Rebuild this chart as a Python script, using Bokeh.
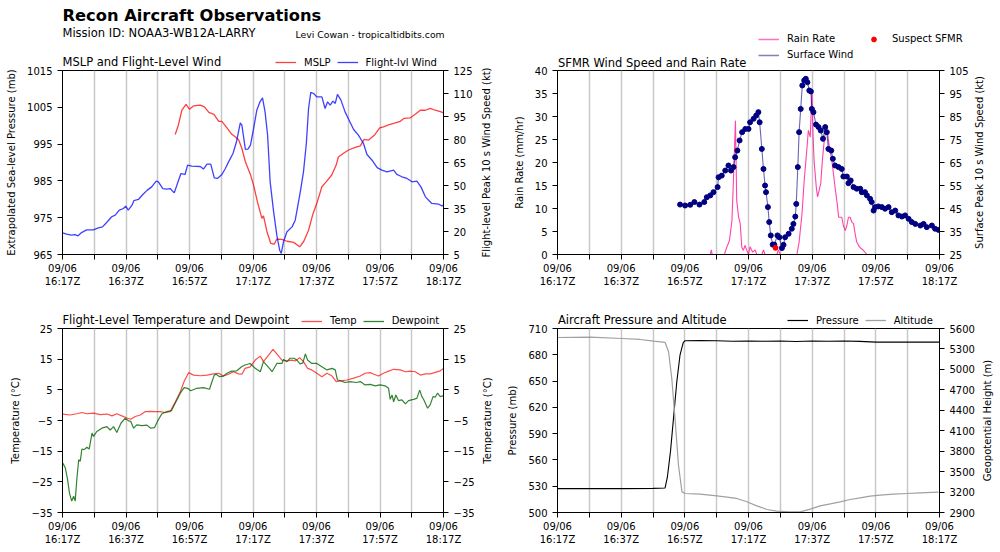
import math
from bokeh.plotting import figure
from bokeh.models import (Range1d, LinearAxis, FixedTicker, Label, Legend, LegendItem, Grid,
                          GridBox)
from bokeh.layouts import column, row
from bokeh.embed import file_html
from bokeh.resources import INLINE

FONT = "DejaVu Sans"

# ---------------- time axis (minutes after 09/06 16:17Z) ----------------
tick_minutes = [0, 20, 40, 60, 80, 100, 120]
minor_minutes = [10, 30, 50, 70, 90, 110]
tick_labels = ["09/06\n16:17Z", "09/06\n16:37Z", "09/06\n16:57Z", "09/06\n17:17Z",
               "09/06\n17:37Z", "09/06\n17:57Z", "09/06\n18:17Z"]

# ---------------- panel 1: MSLP and flight-level wind ----------------
mslp_t = [35.5, 36.5, 37.6, 38.9, 40.0, 41.3, 43.4, 44.7, 46.1, 47.7,
          49.2, 50.2, 51.8, 53.4, 54.4, 55.5, 56.5, 57.6, 59.2, 60.2,
          61.4, 62.8, 63.3, 64.4, 65.6, 66.7, 67.5, 69.1, 70.7, 72.8,
          74.7, 76.0, 77.5, 78.9, 80.1, 81.7, 83.1, 84.8, 86.2, 86.9,
          88.5, 90.1, 92.2, 93.8, 95.0, 96.4, 98.2, 99.9, 101.1, 102.7,
          104.3, 106.4, 107.6, 109.5, 111.1, 112.7, 114.3, 115.8, 117.4, 119.0,
          120.0]
mslp_mb = [997.6, 1000.2, 1004.2, 1005.8, 1004.5, 1005.4, 1005.6, 1005.1, 1003.6, 1003.1,
           1001.2, 1001.2, 999.4, 997.6, 997.0, 996.1, 993.8, 990.2, 986.7, 983.8,
           979.3, 974.8, 975.5, 971.2, 968.0, 967.8, 969.2, 969.1, 968.6, 968.3,
           967.1, 968.6, 971.6, 976.1, 978.9, 983.4, 984.8, 986.6, 989.3, 991.5,
           992.5, 993.4, 994.1, 994.5, 996.3, 996.1, 997.4, 999.4, 999.7, 1000.2,
           1000.6, 1001.2, 1002.0, 1002.1, 1003.1, 1004.2, 1004.2, 1004.7, 1004.2, 1003.8,
           1003.5]

flwind_t = [0.0, 1.3, 2.8, 3.9, 4.9, 6.0, 7.6, 9.7, 11.3, 12.6,
            13.9, 15.5, 16.6, 17.9, 19.2, 19.9, 20.7, 21.9, 22.5, 23.9,
            25.3, 26.7, 28.1, 29.5, 30.2, 31.6, 32.8, 33.9, 35.2, 36.2,
            37.3, 38.6, 39.4, 40.7, 43.4, 44.4, 45.5, 46.7, 47.8, 48.8,
            50.2, 51.3, 52.3, 53.7, 54.8, 56.0, 56.5, 57.6, 58.4, 59.2,
            60.2, 61.2, 62.2, 63.0, 63.8, 64.6, 65.4, 66.5, 67.5, 68.4,
            68.9, 69.6, 70.7, 72.3, 73.3, 74.9, 75.9, 76.8, 77.5, 78.2,
            79.1, 80.1, 81.7, 82.7, 83.5, 84.3, 85.2, 85.9, 86.6, 87.7,
            89.0, 90.0, 91.7, 93.2, 94.8, 95.9, 97.5, 99.1, 100.6, 102.2,
            104.3, 105.3, 106.9, 108.5, 110.1, 111.6, 112.9, 114.3, 116.3, 118.5,
            119.5, 120.0]
flwind_kt = [19.1, 18.3, 17.6, 18.0, 17.2, 19.3, 21.1, 21.1, 22.4, 23.0,
             25.9, 29.6, 30.7, 33.9, 35.0, 36.5, 33.9, 37.2, 40.2, 40.9,
             44.1, 47.0, 49.1, 52.8, 52.4, 48.0, 47.6, 48.0, 45.2, 51.3,
             57.8, 57.2, 63.3, 62.6, 62.4, 60.7, 63.9, 63.9, 55.0, 54.6,
             57.2, 61.1, 65.4, 70.9, 78.5, 90.9, 89.4, 73.5, 73.7, 76.3,
             87.2, 99.1, 104.6, 107.2, 98.0, 82.8, 52.4, 32.8, 17.6, 7.8,
             5.7, 13.3, 19.8, 23.0, 27.4, 45.9, 58.9, 77.4, 100.2, 110.7,
             110.0, 107.8, 107.8, 100.2, 104.6, 102.4, 105.0, 103.5, 109.4, 105.7,
             98.0, 93.7, 86.5, 82.8, 77.4, 70.2, 66.5, 61.7, 60.0, 58.9,
             60.0, 57.2, 55.7, 54.6, 52.4, 52.8, 49.1, 42.6, 38.3, 37.8,
             36.7, 37.2]

# ---------------- panel 2: SFMR wind and rain rate ----------------
sfmr_t = [38.5, 40.1, 41.7, 43.0, 44.6, 46.1, 46.9, 48.0, 49.0, 50.3,
          50.6, 51.6, 52.7, 53.7, 54.5, 55.3, 55.8, 56.5, 57.2, 58.0,
          59.0, 60.0, 60.5, 61.6, 62.4, 63.1, 63.5, 64.2, 64.7, 65.2,
          65.5, 66.1, 66.5, 67.0, 67.6, 68.1, 69.1, 69.7, 70.5, 71.0,
          71.5, 72.6, 73.6, 74.1, 74.7, 75.0, 75.5, 75.9, 76.4, 76.9,
          77.5, 78.0, 78.5, 79.1, 79.6, 79.9, 80.4, 81.2, 82.0, 82.7,
          83.4, 84.1, 84.6, 85.1, 86.0, 86.5, 87.2, 88.3, 89.3, 89.8,
          90.9, 91.4, 92.1, 93.0, 94.0, 95.1, 95.6, 96.6, 97.2, 98.2,
          98.7, 99.3, 99.8, 100.8, 101.9, 102.9, 104.0, 105.0, 106.1, 107.1,
          108.2, 109.2, 110.3, 111.3, 112.4, 114.0, 115.0, 116.0, 117.6, 118.6,
          119.7]
sfmr_kt = [46.7, 46.3, 46.6, 47.8, 46.7, 47.8, 49.9, 50.7, 52.1, 54.3,
           58.6, 59.3, 61.5, 63.7, 61.5, 63.0, 67.3, 70.2, 74.6, 78.2,
           79.6, 79.6, 82.5, 84.0, 85.4, 86.9, 82.5, 70.9, 62.2, 55.0,
           52.1, 45.6, 39.1, 33.3, 29.3, 29.3, 33.3, 32.5, 27.8, 29.2,
           32.5, 34.0, 36.2, 38.3, 41.5, 47.0, 63.0, 78.2, 88.3, 98.5,
           100.7, 101.4, 99.9, 96.3, 95.9, 88.3, 86.9, 81.5, 80.4, 78.9,
           75.3, 80.4, 78.2, 70.9, 70.2, 66.6, 63.7, 63.0, 62.2, 58.9,
           58.9, 56.0, 57.2, 54.3, 53.6, 53.6, 52.1, 52.1, 50.7, 49.2,
           47.8, 44.1, 45.6, 45.9, 45.6, 44.9, 45.6, 43.4, 44.1, 42.0,
           41.5, 42.0, 40.5, 39.1, 38.3, 37.6, 38.3, 36.9, 37.6, 36.2,
           35.7]
suspect_t = [68.5]
suspect_kt = [27.9]

rain_t = [38.5, 48.0, 48.3, 48.6, 52.4, 53.2, 54.0, 54.8, 55.3, 55.9,
          56.3, 56.9, 57.4, 57.9, 58.4, 58.9, 59.4, 60.0, 60.5, 61.3,
          62.1, 62.6, 64.2, 64.7, 65.2, 68.9, 69.4, 70.0, 75.2, 75.9,
          76.8, 77.5, 78.3, 78.8, 79.4, 79.9, 80.3, 80.6, 81.3, 81.7,
          82.3, 82.7, 83.2, 83.8, 84.3, 84.8, 85.4, 86.2, 86.7, 87.2,
          88.0, 88.3, 89.3, 89.8, 90.4, 90.9, 91.4, 91.9, 92.5, 93.0,
          93.5, 94.0, 94.9, 95.6, 96.1, 97.2, 119.7]
rain_mm = [0.0, 0.0, 1.0, 0.0, 0.0, 1.6, 3.0, 7.4, 16.8, 29.1,
           11.7, 8.1, 6.7, 1.6, 0.9, 2.0, 1.0, 0.0, 1.7, 0.5,
           1.0, 0.0, 0.0, 1.0, 0.0, 0.0, 1.0, 0.0, 0.0, 2.7,
           8.8, 16.1, 22.6, 27.0, 25.5, 35.7, 25.5, 20.4, 14.6, 12.5,
           14.3, 15.4, 20.4, 24.8, 27.3, 26.6, 23.3, 20.4, 17.5, 14.6,
           10.3, 8.1, 8.1, 6.3, 5.2, 6.3, 8.1, 8.1, 7.0, 6.7,
           4.5, 2.7, 1.6, 1.2, 0.9, 0.0, 0.0]

# ---------------- panel 3: flight-level temperature and dewpoint ----------------
temp_t = [0.1, 2.4, 4.5, 6.1, 7.7, 9.8, 11.9, 14.0, 15.6, 17.1,
          18.7, 20.3, 21.5, 22.9, 24.5, 26.1, 27.6, 29.2, 30.8, 32.3,
          33.9, 35.5, 37.1, 38.3, 39.7, 41.3, 43.4, 45.5, 47.6, 49.2,
          50.7, 52.3, 53.9, 55.4, 56.5, 57.5, 59.1, 60.7, 62.3, 63.3,
          64.9, 66.3, 67.5, 69.1, 70.7, 72.3, 73.3, 74.7, 75.9, 77.2,
          78.5, 80.1, 81.7, 83.3, 84.9, 86.2, 87.5, 89.6, 91.7, 93.8,
          95.3, 96.9, 98.1, 99.5, 101.1, 102.7, 104.3, 106.4, 108.0, 109.5,
          111.1, 112.7, 114.3, 115.8, 117.4, 119.0, 120.0]
temp_c = [-2.9, -3.2, -2.8, -2.4, -2.8, -2.6, -3.1, -2.9, -3.5, -2.8,
          -3.5, -4.2, -4.6, -3.7, -3.2, -2.1, -2.0, -2.1, -2.1, -2.4,
          -2.1, 1.0, 4.4, 7.7, 10.6, 9.8, 9.6, 9.8, 10.2, 10.4,
          9.5, 10.1, 10.9, 10.2, 10.1, 12.0, 12.5, 14.7, 16.0, 14.2,
          16.3, 18.2, 16.7, 14.7, 14.4, 14.7, 14.4, 15.5, 14.2, 12.0,
          11.5, 10.4, 9.3, 10.4, 9.5, 7.7, 7.9, 8.2, 8.8, 9.5,
          10.4, 10.6, 10.1, 9.5, 10.4, 11.1, 11.7, 11.5, 10.9, 11.1,
          10.9, 9.8, 10.2, 10.2, 10.7, 11.2, 12.0]

dew_t = [0.1, 0.9, 1.6, 2.2, 2.9, 3.5, 4.0, 4.5, 5.1, 5.6,
         6.1, 6.8, 7.7, 8.4, 9.3, 9.8, 10.8, 12.4, 14.0, 15.0,
         16.1, 17.1, 18.4, 19.7, 20.8, 21.5, 22.4, 23.4, 25.0, 26.6,
         27.8, 29.0, 29.9, 31.3, 32.9, 34.3, 35.5, 37.1, 38.3, 39.4,
         40.4, 42.3, 44.4, 46.3, 47.1, 47.8, 48.4, 49.5, 50.7, 51.8,
         53.3, 54.9, 56.5, 57.5, 59.1, 60.7, 62.3, 63.3, 64.9, 66.0,
         67.5, 69.1, 69.6, 70.7, 71.7, 72.9, 73.8, 74.9, 75.7, 76.5,
         77.2, 78.5, 80.1, 81.7, 83.3, 84.9, 85.9, 86.6, 87.5, 89.0,
         90.6, 92.5, 93.8, 95.3, 96.9, 98.5, 100.0, 101.6, 102.7, 103.2,
         103.8, 104.3, 105.0, 105.8, 106.9, 108.0, 109.0, 110.6, 111.6, 112.5,
         113.2, 113.9, 115.0, 115.8, 116.7, 117.4, 118.1, 119.0, 120.0]
dew_c = [-18.9, -20.5, -24.3, -28.7, -31.3, -29.7, -31.3, -24.3, -17.8, -18.3,
         -14.3, -14.5, -13.7, -14.3, -9.1, -10.2, -8.6, -7.5, -7.0, -8.1,
         -7.0, -8.9, -5.9, -4.3, -5.1, -5.3, -7.5, -6.4, -6.7, -6.5,
         -7.5, -7.3, -5.3, -2.8, -2.1, -1.8, 0.6, 3.9, 5.7, 5.5,
         4.7, 5.5, 5.7, 5.2, 7.7, 9.8, 10.1, 9.3, 9.5, 10.4,
         11.1, 11.2, 12.6, 13.1, 13.6, 12.0, 10.9, 14.2, 12.3, 10.9,
         13.6, 13.6, 14.9, 14.2, 15.3, 15.3, 14.7, 13.4, 13.8, 16.7,
         14.7, 13.6, 13.6, 12.5, 11.5, 12.0, 11.5, 8.2, 8.0, 7.4,
         7.7, 7.4, 7.7, 6.6, 6.8, 6.3, 6.6, 6.3, 5.5, 1.9,
         3.3, 1.1, 3.3, 1.5, 1.7, 0.4, 1.5, 1.9, 2.2, 4.9,
         2.8, 1.5, -1.0, 0.1, 2.8, 2.6, 3.9, 2.8, 3.1]

# ---------------- panel 4: aircraft pressure and altitude ----------------
press_t = [0, 10, 20, 30, 33.8, 34.5, 35.5, 36.5, 37.5, 38.5,
           39.5, 40, 45, 50, 55, 60, 65, 70, 75, 80,
           85, 90, 95, 100, 110, 120]
press_mb = [527.3, 527.3, 527.3, 527.5, 528.0, 540, 570, 610, 650, 680,
            694, 696, 696.3, 696, 695.5, 695.8, 695.5, 695.8, 695.2, 695.8,
            695.5, 695.8, 695.3, 694.5, 694.5, 694.5]
alt_t = [0.0, 10.3, 20.2, 26.0, 30.2, 33.8, 34.9, 35.9, 37.0, 38.0,
         39.1, 40.1, 44.8, 50.1, 56.3, 59.5, 62.6, 65.8, 68.9, 73.1,
         76.2, 79.4, 82.5, 85.7, 88.8, 91.9, 95.1, 98.2, 101.4, 105.5,
         109.7, 113.9, 119.7]
alt_m = [5468, 5473, 5453, 5439, 5414, 5395, 5258, 4866, 4230, 3595,
         3203, 3179, 3169, 3145, 3106, 3057, 2998, 2944, 2920, 2910,
         2910, 2949, 2998, 3027, 3057, 3091, 3115, 3140, 3155, 3169,
         3179, 3189, 3198]

# ---------------- axis ticks ----------------
mslp_ticks = [965, 975, 985, 995, 1005, 1015]
flwind_ticks = [5, 20, 35, 50, 65, 80, 95, 110, 125]
rain_ticks = [0, 5, 10, 15, 20, 25, 30, 35, 40]
sfmr_ticks = [25, 35, 45, 55, 65, 75, 85, 95, 105]
temp_ticks = [-35, -25, -15, -5, 5, 15, 25]
press_ticks = [500, 530, 560, 590, 620, 650, 680, 710]
alt_ticks = [2900, 3200, 3500, 3800, 4100, 4400, 4700, 5000, 5300, 5600]


def fmt(v):
    return ("\u2212" + str(abs(v))) if v < 0 else str(v)


def style_axis(ax, side):
    ax.axis_line_color = "black"
    ax.axis_line_width = 1
    ax.major_tick_line_color = "black"
    ax.major_tick_in = 0
    ax.major_tick_out = 5
    ax.minor_tick_in = 0
    ax.minor_tick_out = 5
    ax.minor_tick_line_color = "black" if side == "below" else None
    ax.major_label_text_font = FONT
    ax.major_label_text_font_size = "10px"
    ax.major_label_text_color = "black"
    ax.axis_label_text_font = FONT
    ax.axis_label_text_font_size = "10px"
    ax.axis_label_text_font_style = "normal"
    ax.axis_label_text_color = "black"
    ax.major_label_standoff = 3 if side == "below" else 5
    ax.axis_label_standoff = 7


def make_panel(width, height, bl, br, bt, bb, lrange, lticks, llabel, rrange, rticks):
    p = figure(width=width, height=height, x_range=Range1d(0, 120), y_range=Range1d(*lrange),
               x_axis_type=None, y_axis_type=None, output_backend="svg", toolbar_location=None,
               title=None, min_border_left=bl, min_border_right=br, min_border_top=bt,
               min_border_bottom=bb)
    p.extra_y_ranges = {"r": Range1d(*rrange)}
    p.outline_line_color = "black"
    p.outline_line_alpha = 1
    p.background_fill_color = "white"
    p.border_fill_color = "white"

    xt = FixedTicker(ticks=tick_minutes, minor_ticks=minor_minutes)
    xa = LinearAxis(ticker=xt, major_label_overrides=dict(zip(tick_minutes, tick_labels)))
    style_axis(xa, "below")
    xa.major_label_text_line_height = 1.25
    p.add_layout(xa, "below")

    la = LinearAxis(ticker=FixedTicker(ticks=lticks, minor_ticks=[]), axis_label=llabel,
                    major_label_overrides={v: fmt(v) for v in lticks})
    style_axis(la, "left")
    p.add_layout(la, "left")

    ra = LinearAxis(y_range_name="r", ticker=FixedTicker(ticks=rticks, minor_ticks=[]),
                    major_label_overrides={v: fmt(v) for v in rticks})
    style_axis(ra, "right")
    p.add_layout(ra, "right")

    grid = Grid(dimension=0, ticker=xt, grid_line_color="#c8c8c8", grid_line_width=1.5,
                minor_grid_line_color="#c8c8c8", minor_grid_line_width=1.5)
    p.add_layout(grid)
    return p


# ----- panels (page has no margin: figure pixels = page pixels) -----
p1 = make_panel(500, 300, 62, 57, 70, 46, (965, 1015), mslp_ticks,
                "Extrapolated Sea-level Pressure (mb)", (5, 125), flwind_ticks)
p1.line(mslp_t, mslp_mb, line_color="red", line_alpha=0.75, line_width=1.3)
p1.line(flwind_t, flwind_kt, line_color="blue", line_alpha=0.75, line_width=1.3,
        y_range_name="r")

p2 = make_panel(500, 300, 57, 61, 70, 46, (0, 40), rain_ticks, "Rain Rate (mm/hr)",
                (25, 105), sfmr_ticks)
p2.line(rain_t, rain_mm, line_color="deeppink", line_alpha=0.8, line_width=1.1)
p2.line(sfmr_t, sfmr_kt, line_color="navy", line_alpha=0.6, line_width=1.1, y_range_name="r")
p2.scatter(sfmr_t, sfmr_kt, size=5, color="navy", y_range_name="r")
p2.scatter(suspect_t, suspect_kt, size=5, color="red", y_range_name="r")

p3 = make_panel(500, 252, 62, 57, 28, 40, (-35, 25), temp_ticks, "Temperature (°C)",
                (-35, 25), temp_ticks)
p3.line(temp_t, temp_c, line_color="red", line_alpha=0.7, line_width=1.2)
p3.line(dew_t, dew_c, line_color="darkgreen", line_alpha=0.8, line_width=1.2)

p4 = make_panel(500, 252, 57, 61, 28, 40, (500, 710), press_ticks, "Pressure (mb)",
                (2900, 5600), alt_ticks)
p4.line(press_t, press_mb, line_color="black", line_width=1.1)
p4.line(alt_t, alt_m, line_color="#a0a0a0", line_width=1.2, y_range_name="r")

# ----- transparent overlay carrying titles, legends and right-axis labels -----
ov = figure(width=1000, height=552, x_range=Range1d(0, 1000), y_range=Range1d(552, 0),
            x_axis_type=None, y_axis_type=None, output_backend="svg", toolbar_location=None,
            title=None, min_border_left=0, min_border_right=0, min_border_top=0,
            min_border_bottom=0)
ov.outline_line_color = None
ov.background_fill_color = None
ov.border_fill_color = None


def text(x, baseline_y, s, size_px, bold=False):
    # vertically centred label; centre sits ~0.35 em above the text baseline
    ov.add_layout(Label(x=x, y=baseline_y - 0.35 * size_px, text=s, text_font=FONT,
                        text_font_size=f"{size_px}px",
                        text_font_style="bold" if bold else "normal",
                        text_align="left", text_baseline="middle", text_color="black"))


def vtext(x, y, s):
    ov.add_layout(Label(x=x, y=y, text=s, text_font=FONT, text_font_size="10px",
                        angle=math.pi / 2, text_align="center", text_baseline="middle",
                        text_color="black"))


text(62, 20.7, "Recon Aircraft Observations", 16.3, bold=True)
text(62, 36.7, "Mission ID: NOAA3-WB12A-LARRY", 11.5)
text(295, 37.3, "Levi Cowan - tropicaltidbits.com", 9.3)
text(62, 65.5, "MSLP and Flight-Level Wind", 11.5)
text(557.5, 66.3, "SFMR Wind Speed and Rain Rate", 11.5)
text(62, 324, "Flight-Level Temperature and Dewpoint", 11.5)
text(557.5, 324, "Aircraft Pressure and Altitude", 11.5)
vtext(486, 162, "Flight-level Peak 10 s Wind Speed (kt)")
vtext(979, 162, "Surface Peak 10 s Wind Speed (kt)")
vtext(487, 420, "Temperature (°C)")
vtext(987, 420, "Geopotential Height (m)")

# legend samples: hidden renderers styled like the plotted series
k_mslp = ov.line(mslp_t, mslp_mb, line_color="red", line_alpha=0.75, line_width=1.3, visible=False)
k_flw = ov.line(flwind_t, flwind_kt, line_color="blue", line_alpha=0.75, line_width=1.3, visible=False)
k_rain = ov.line(rain_t, rain_mm, line_color="deeppink", line_alpha=0.6, line_width=1.5, visible=False)
k_sfc = ov.line(sfmr_t, sfmr_kt, line_color="navy", line_alpha=0.5, line_width=1.5, visible=False)
k_sus = ov.scatter(suspect_t, suspect_kt, size=5, color="red", visible=False)
k_temp = ov.line(temp_t, temp_c, line_color="red", line_alpha=0.7, line_width=1.3, visible=False)
k_dew = ov.line(dew_t, dew_c, line_color="darkgreen", line_alpha=0.8, line_width=1.3, visible=False)
k_pres = ov.line(press_t, press_mb, line_color="black", line_width=1.2, visible=False)
k_alt = ov.line(alt_t, alt_m, line_color="#a0a0a0", line_width=1.3, visible=False)


def legend(items, left, bottom, orientation="horizontal", spacing=6):
    leg = Legend(items=[LegendItem(label=l, renderers=[r]) for l, r in items],
                 location=(left, 552 - bottom), orientation=orientation,
                 label_text_font=FONT, label_text_font_size="10px", label_text_color="black",
                 glyph_width=21, glyph_height=12, label_height=12, label_standoff=8,
                 spacing=spacing, padding=0, margin=0, border_line_color=None,
                 background_fill_alpha=0, inactive_fill_alpha=0)
    ov.add_layout(leg)


legend([("MSLP", k_mslp), ("Flight-lvl Wind", k_flw)], 275, 68)
legend([("Rain Rate", k_rain), ("Surface Wind", k_sfc)], 758, 60.5, orientation="vertical",
       spacing=4)
legend([("Suspect SFMR", k_sus)], 863, 44.5)
legend([("Temp", k_temp), ("Dewpoint", k_dew)], 301, 326.5)
legend([("Pressure", k_pres), ("Altitude", k_alt)], 787, 326)

# plots and overlay share one grid cell; each wrapped so frames are not aligned together
plots = column(row(p1, p2), row(p3, p4))
top = GridBox(children=[(plots, 0, 0), (column(ov), 0, 0)])
open("out.html", "w").write(file_html(top, INLINE, title="Recon Aircraft Observations"))
